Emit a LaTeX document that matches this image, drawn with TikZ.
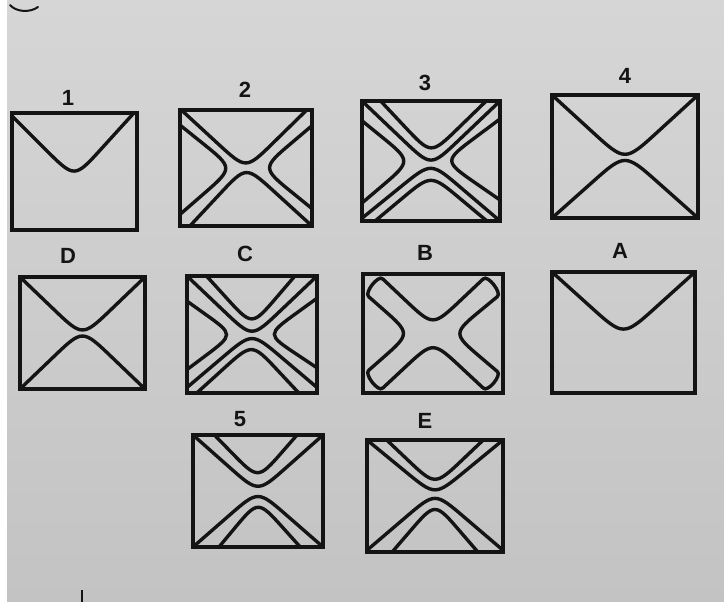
\documentclass[tikz,border=0pt]{standalone}
\usepackage{fontspec}
\setmainfont{Liberation Sans}
\definecolor{ink}{HTML}{141414}
\definecolor{bgtop}{HTML}{D6D6D6}
\definecolor{bgbot}{HTML}{C3C3C3}
% rounded polyline S -- V -- E, corner at V rounded with handle length #7 (px)
\newcommand\rcurve[7]{%
 \pgfmathsetmacro\Sx{#1}\pgfmathsetmacro\Sy{#2}%
 \pgfmathsetmacro\Vx{#3}\pgfmathsetmacro\Vy{#4}%
 \pgfmathsetmacro\Ex{#5}\pgfmathsetmacro\Ey{#6}%
 \pgfmathsetmacro\dA{veclen(\Sx-\Vx,\Sy-\Vy)}%
 \pgfmathsetmacro\dB{veclen(\Ex-\Vx,\Ey-\Vy)}%
 \pgfmathsetmacro\Ax{\Vx+(\Sx-\Vx)*#7/\dA}\pgfmathsetmacro\Ay{\Vy+(\Sy-\Vy)*#7/\dA}%
 \pgfmathsetmacro\Bx{\Vx+(\Ex-\Vx)*#7/\dB}\pgfmathsetmacro\By{\Vy+(\Ey-\Vy)*#7/\dB}%
 \draw[cv] (\Sx,\Sy) -- (\Ax,\Ay) .. controls (\Vx,\Vy) .. (\Bx,\By) -- (\Ex,\Ey);}
% cap joining P (arm from V1) to Q (arm from V2)
\newcommand\capc[9]{%
 \pgfmathsetmacro\Px{#1}\pgfmathsetmacro\Py{#2}%
 \pgfmathsetmacro\Vx{#3}\pgfmathsetmacro\Vy{#4}%
 \pgfmathsetmacro\Qx{#5}\pgfmathsetmacro\Qy{#6}%
 \pgfmathsetmacro\Wx{#7}\pgfmathsetmacro\Wy{#8}%
 \pgfmathsetmacro\dA{veclen(\Px-\Vx,\Py-\Vy)}%
 \pgfmathsetmacro\dB{veclen(\Qx-\Wx,\Qy-\Wy)}%
 \pgfmathsetmacro\Ax{\Px+(\Px-\Vx)*#9/\dA}\pgfmathsetmacro\Ay{\Py+(\Py-\Vy)*#9/\dA}%
 \pgfmathsetmacro\Bx{\Qx+(\Qx-\Wx)*#9/\dB}\pgfmathsetmacro\By{\Qy+(\Qy-\Wy)*#9/\dB}%
 \draw[cv] (\Px,\Py) .. controls (\Ax,\Ay) and (\Bx,\By) .. (\Qx,\Qy);}
% side curves: #1,#2 start/end offsets, #3 vertex offset, #4 rounding
\newcommand\topc[4]{\pgfmathsetmacro\rcomp{0.33*#4-9.3}%
 \rcurve{\cx-\w+(#1)*\w}{\cy-\h}{\cx}{\cy-(#3)*\h+\rcomp}{\cx+\w-(#2)*\w}{\cy-\h}{#4}}
\newcommand\botc[4]{\pgfmathsetmacro\rcomp{0.33*#4-9.3}%
 \rcurve{\cx-\w+(#1)*\w}{\cy+\h}{\cx}{\cy+(#3)*\h-\rcomp}{\cx+\w-(#2)*\w}{\cy+\h}{#4}}
\newcommand\lftc[4]{\pgfmathsetmacro\rcomp{0.33*#4-9.3}%
 \rcurve{\cx-\w}{\cy-\h+(#1)*\h}{\cx-(#3)*\w+\rcomp}{\cy}{\cx-\w}{\cy+\h-(#2)*\h}{#4}}
\newcommand\rgtc[4]{\pgfmathsetmacro\rcomp{0.33*#4-9.3}%
 \rcurve{\cx+\w}{\cy-\h+(#1)*\h}{\cx+(#3)*\w-\rcomp}{\cy}{\cx+\w}{\cy+\h-(#2)*\h}{#4}}
\newcommand\envbox[5]{%
 \begin{scope}
  \def\cx{#1}\def\cy{#2}\def\w{#3}\def\h{#4}%
  \pgfmathsetmacro\xl{#1-#3}\pgfmathsetmacro\xr{#1+#3}%
  \pgfmathsetmacro\yt{#2-#4}\pgfmathsetmacro\yb{#2+#4}%
  \begin{scope}\clip (\xl,\yt) rectangle (\xr,\yb); #5\end{scope}
  \draw[boxline] (\xl,\yt) rectangle (\xr,\yb);
 \end{scope}}
\begin{document}
\begin{tikzpicture}[x=1pt,y=-1pt,
  boxline/.style={line width=4.8pt, line join=miter, draw=ink},
  cv/.style={line width=3.4pt, draw=ink, line cap=round},
  lbl/.style={font=\fontsize{22}{22}\selectfont\bfseries, text=ink, inner sep=0pt}]
\useasboundingbox (0,0) rectangle (724,602);
\shade[top color=bgtop, bottom color=bgbot] (0,0) rectangle (724,602);
\fill[white] (0,0) rectangle (7,602);
% stray marks of the scan
\draw[ink, line width=2pt, line cap=round] (10,5) .. controls (16,12) and (30,13) .. (38,7);
\draw[ink, line width=2pt] (82,590) -- (82,602);
% row 1
\envbox{74.5}{171.5}{62.5}{58.5}{\topc{-0.05}{0.05}{-0.05}{40}}
\envbox{246}{168}{66}{58}{\topc{0.02}{0.08}{0.03}{38}\lftc{0.26}{0.2}{0.25}{40}\rgtc{0.27}{0.3}{0.3}{40}\botc{0.15}{0}{0.02}{38}}
\envbox{431}{161}{69}{60}{\topc{0.27}{0.2}{0.16}{38}\topc{0}{0}{-0.04}{38}\lftc{0.33}{0.3}{0.34}{40}\rgtc{0.3}{0.35}{0.24}{40}\botc{-0.05}{0}{0.075}{38}\botc{0.19}{0.19}{0.275}{38}}
\envbox{625}{156.5}{73}{61.5}{\topc{0}{0}{0}{44}\botc{0}{0}{0.03}{44}}
% row 2
\envbox{82.5}{333}{62.5}{56}{\topc{0}{0}{0}{40}\botc{0}{0}{0}{40}}
\envbox{252}{334.5}{65}{58.5}{\topc{0.3}{0.34}{0.2}{38}\topc{0}{0}{0}{38}\lftc{0.43}{0.4}{0.32}{36}\rgtc{0.38}{0.43}{0.27}{36}\botc{-0.1}{-0.1}{0.02}{38}\botc{0.15}{0.28}{0.2}{38}}
\envbox{433}{333.5}{70}{59.5}{%
 \rcurve{\cx-0.72*\w}{\cy-0.92*\h}{\cx}{\cy-0.12*\h}{\cx+0.72*\w}{\cy-0.92*\h}{38}%
 \rcurve{\cx+0.92*\w}{\cy-0.62*\h}{\cx+0.28*\w}{\cy}{\cx+0.92*\w}{\cy+0.64*\h}{38}%
 \rcurve{\cx+0.72*\w}{\cy+0.92*\h}{\cx}{\cy+0.13*\h}{\cx-0.72*\w}{\cy+0.92*\h}{38}%
 \rcurve{\cx-0.92*\w}{\cy+0.62*\h}{\cx-0.32*\w}{\cy}{\cx-0.92*\w}{\cy-0.62*\h}{38}%
 \capc{\cx+0.72*\w}{\cy-0.92*\h}{\cx}{\cy-0.12*\h}{\cx+0.92*\w}{\cy-0.62*\h}{\cx+0.28*\w}{\cy}{6}%
 \capc{\cx+0.92*\w}{\cy+0.64*\h}{\cx+0.28*\w}{\cy}{\cx+0.72*\w}{\cy+0.92*\h}{\cx}{\cy+0.13*\h}{6}%
 \capc{\cx-0.72*\w}{\cy+0.92*\h}{\cx}{\cy+0.13*\h}{\cx-0.92*\w}{\cy+0.62*\h}{\cx-0.32*\w}{\cy}{6}%
 \capc{\cx-0.92*\w}{\cy-0.62*\h}{\cx-0.32*\w}{\cy}{\cx-0.72*\w}{\cy-0.92*\h}{\cx}{\cy-0.12*\h}{6}}
\envbox{623.5}{332.5}{71.5}{60.5}{\topc{0}{0}{0.02}{44}}
% row 3
\envbox{258}{491}{65}{56}{\topc{0}{0}{0.03}{38}\topc{0.33}{0.4}{0.26}{38}\botc{0}{0}{0.045}{38}\botc{0.4}{0.35}{0.22}{38}}
\envbox{435}{496}{68}{56}{\topc{0.29}{0.29}{0.24}{38}\topc{0}{0}{0.06}{38}\botc{-0.03}{-0.03}{-0.01}{38}\botc{0.37}{0.37}{0.17}{38}}
% labels
\node[lbl] (l1) at (68,98) {1};
\node[lbl] (l2) at (245,90) {2};
\node[lbl] (l3) at (425,83) {3};
\node[lbl] (l4) at (625,76) {4};
\node[lbl] (lD) at (68,256) {D};
\node[lbl] (lC) at (245,254) {C};
\node[lbl] (lB) at (425,253) {B};
\node[lbl] (lA) at (620,251) {A};
\node[lbl] (l5) at (240,419) {5};
\node[lbl] (lE) at (425,421) {E};
\end{tikzpicture}
\end{document}
